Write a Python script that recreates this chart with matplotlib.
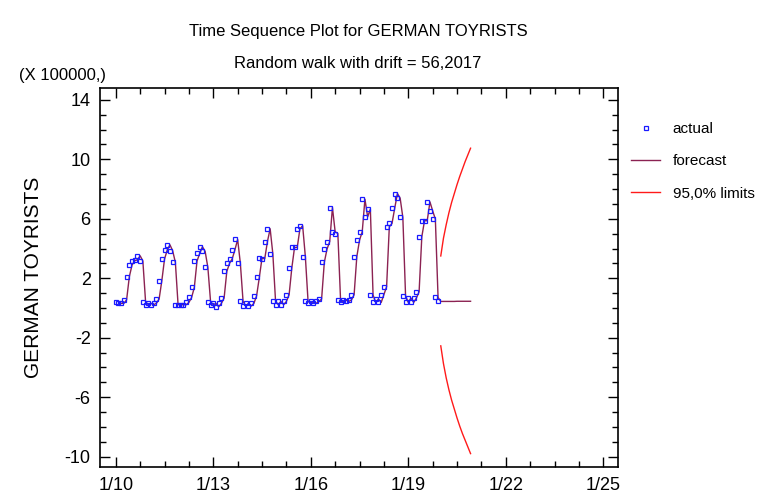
import matplotlib
matplotlib.use("Agg")
import matplotlib.pyplot as plt
from matplotlib import font_manager
from matplotlib.ticker import FixedLocator, FixedFormatter
import numpy as np

# monthly values, units of 100000
actual_2010 = [0.42, 0.31, 0.31, 0.55, 2.10, 2.89, 3.18, 3.24, 3.51, 3.16, 0.42, 0.22]
actual_2011 = [0.31, 0.22, 0.31, 0.60, 1.83, 3.29, 3.90, 4.25, 3.85, 3.07, 0.22, 0.22]
actual_2012 = [0.22, 0.22, 0.37, 0.71, 1.38, 3.16, 3.67, 4.12, 3.80, 2.73, 0.42, 0.22]
actual_2013 = [0.31, 0.08, 0.31, 0.67, 2.46, 3.00, 3.31, 3.92, 4.61, 3.00, 0.44, 0.13]
actual_2014 = [0.31, 0.13, 0.31, 0.82, 2.05, 3.36, 3.31, 4.47, 5.33, 3.63, 0.44, 0.22]
actual_2015 = [0.44, 0.22, 0.44, 0.89, 2.69, 4.07, 4.07, 5.33, 5.53, 3.45, 0.44, 0.31]
actual_2016 = [0.44, 0.31, 0.44, 0.60, 3.07, 3.96, 4.47, 6.76, 5.13, 5.01, 0.53, 0.37]
actual_2017 = [0.53, 0.44, 0.53, 0.89, 3.45, 4.56, 5.13, 7.32, 6.13, 6.65, 0.87, 0.37]
actual_2018 = [0.60, 0.37, 0.89, 1.43, 5.46, 5.69, 6.72, 7.70, 7.39, 6.09, 0.82, 0.37]
actual_2019 = [0.67, 0.37, 0.67, 1.09, 4.79, 5.87, 5.87, 7.14, 6.54, 5.98, 0.71, 0.44]

actual = (actual_2010 + actual_2011 + actual_2012 + actual_2013 + actual_2014 +
          actual_2015 + actual_2016 + actual_2017 + actual_2018 + actual_2019)

# 2020 forecasts and 95% limits
fc_2020 = [0.44, 0.44, 0.44, 0.44, 0.44, 0.44, 0.45, 0.45, 0.45, 0.45, 0.45, 0.45]
upper_2020 = [3.50, 4.70, 5.60, 6.40, 7.10, 7.70, 8.30, 8.85, 9.35, 9.85, 10.30, 10.75]
lower_2020 = [-2.55, -3.75, -4.70, -5.50, -6.20, -6.80, -7.40, -7.95, -8.45, -8.90, -9.35, -9.80]

xticks = [2010, 2013, 2016, 2019, 2022, 2025]
xtick_labels = ["1/10", "1/13", "1/16", "1/19", "1/22", "1/25"]
yticks = [14, 10, 6, 2, -2, -6, -10]
ytick_labels = ["14", "10", "6", "2", "-2", "-6", "-10"]

names = {f.name for f in font_manager.fontManager.ttflist}
narrow = "Liberation Sans Narrow" if "Liberation Sans Narrow" in names else "Liberation Sans"
title_size = 13 if narrow == "Liberation Sans Narrow" else 12

t_hist = 2010 + np.arange(len(actual)) / 12.0
t_fut = 2020 + np.arange(len(fc_2020)) / 12.0

# random walk: one-step forecast is last month's value
fc_x = np.concatenate([t_hist[1:], t_fut])
fc_y = list(actual[:-1]) + fc_2020

fig = plt.figure(figsize=(7.57, 4.97), dpi=100)
ax = fig.add_axes([0.1326, 0.0604, 0.6832, 0.7625])

ax.plot(fc_x, fc_y, color="#8b2252", lw=1.0, label="forecast", zorder=2)
ax.plot(t_fut, upper_2020, color="#ff1a1a", lw=1.0, label="95,0% limits", zorder=2)
ax.plot(t_fut, lower_2020, color="#ff1a1a", lw=1.0, zorder=2)
ax.plot(t_hist, actual, ls="none", marker="s", ms=3.4, mfc="none",
        mec="#1a1aff", mew=0.9, label="actual", zorder=3)

ax.set_xlim(2009.526, 2025.44)
ax.set_ylim(-10.7, 14.8)

ax.xaxis.set_major_locator(FixedLocator(xticks))
ax.xaxis.set_major_formatter(FixedFormatter(xtick_labels))
ax.xaxis.set_minor_locator(FixedLocator(list(np.arange(2010, 2025.01, 0.75))))
ax.yaxis.set_major_locator(FixedLocator(yticks))
ax.yaxis.set_major_formatter(FixedFormatter(ytick_labels))
ax.yaxis.set_minor_locator(FixedLocator(list(range(-10, 15))))

ax.tick_params(which="both", direction="in", top=True, right=True, width=1.0,
               labelsize=13, pad=7)
ax.tick_params(which="major", length=7)
ax.tick_params(which="minor", length=4)
for lab in ax.get_xticklabels() + ax.get_yticklabels():
    lab.set_family(narrow)
for s in ax.spines.values():
    s.set_linewidth(1.2)

ax.set_ylabel("GERMAN TOYRISTS", fontsize=15, family="Liberation Sans")
ax.yaxis.set_label_coords(-0.111, 0.5)

fig.text(0.473, 0.937, "Time Sequence Plot for GERMAN TOYRISTS", ha="center",
         va="center", fontsize=title_size, family=narrow)
fig.text(0.473, 0.873, "Random walk with drift = 56,2017", ha="center",
         va="center", fontsize=title_size, family=narrow)
fig.text(0.082, 0.848, "(X 100000,)", ha="center", va="center", fontsize=title_size,
         family=narrow)

h, l = ax.get_legend_handles_labels()
order = [2, 0, 1]
leg = ax.legend([h[i] for i in order], [l[i] for i in order],
                loc="upper left", bbox_to_anchor=(1.0, 0.947), frameon=False,
                handlelength=1.9, handletextpad=0.8, labelspacing=1.2,
                prop={"family": narrow, "size": 11})

fig.savefig("out.png", dpi=100)
